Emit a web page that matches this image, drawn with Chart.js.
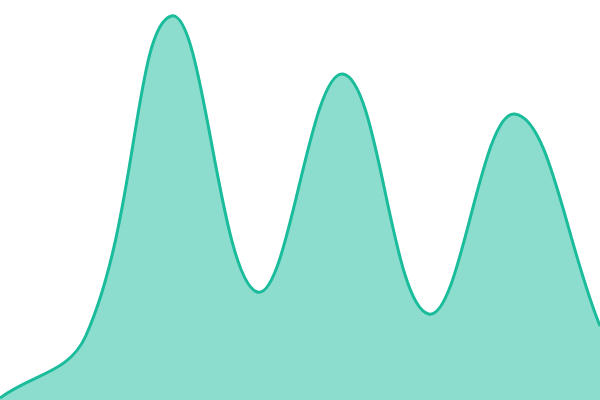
<!DOCTYPE html>
<html><head><meta charset="utf-8">
<script src="https://cdn.jsdelivr.net/npm/chart.js@4"></script>
<style>html,body{margin:0;padding:0;background:#fff}#wrap{width:600px;height:400px}</style>
</head><body><div id="wrap"><canvas id="c"></canvas></div>
<script>
const labels = ["1","2","3","4","5","6","7","8"];
const values = [2, 64, 384, 108, 326, 86, 286, 74];
new Chart(document.getElementById('c'), {
  type: 'line',
  data: { labels: labels, datasets: [{
    data: values, fill: true, tension: 0.4,
    borderColor: '#1abc9c', backgroundColor: 'rgba(26,188,156,0.5)',
    borderWidth: 3, pointRadius: 0
  }]},
  options: {
    responsive: true, maintainAspectRatio: false, animation: false,
    layout: { padding: 0 },
    plugins: { legend: { display: false }, tooltip: { enabled: false } },
    scales: {
      x: { display: false, offset: false },
      y: { display: false, min: 0, max: 400 }
    }
  }
});
</script></body></html>
